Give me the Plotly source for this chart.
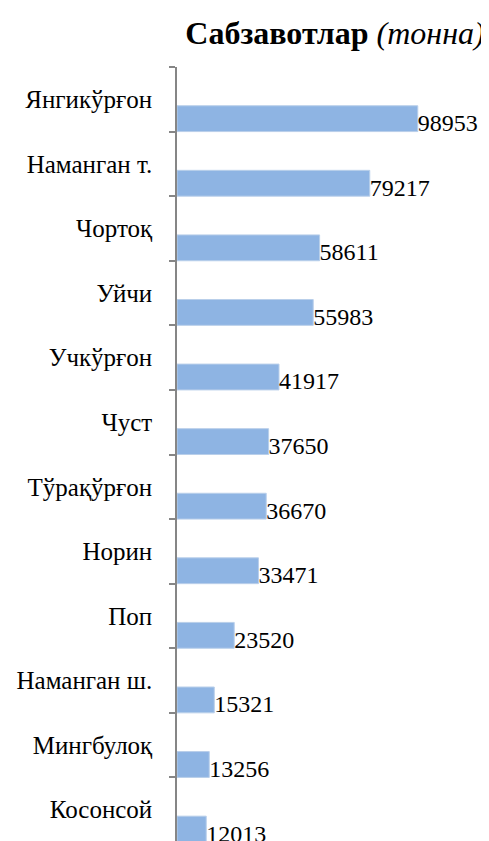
import plotly.graph_objects as go

categories = ["Янгикўрғон", "Наманган т.", "Чортоқ", "Уйчи", "Учкўрғон", "Чуст",
              "Тўрақўрғон", "Норин", "Поп", "Наманган ш.", "Мингбулоқ", "Косонсой"]
values = [98953, 79217, 58611, 55983, 41917, 37650, 36670, 33471, 23520, 15321, 13256, 12013]
value_labels = [str(v) for v in values]

FONT = "Liberation Serif"
idx = list(range(len(categories)))

fig = go.Figure()
fig.add_trace(go.Bar(
    x=values, y=categories, orientation="h",
    width=0.4, offset=0.1,
    marker=dict(color="#8EB4E3", line=dict(color="#B9CFEA", width=1)),
    hoverinfo="skip", showlegend=False,
))
fig.add_trace(go.Scatter(
    x=values, y=[i + 0.4 for i in idx], yaxis="y2",
    mode="text", text=value_labels, textposition="middle right",
    textfont=dict(family=FONT, size=24, color="#000000"),
    cliponaxis=False, hoverinfo="skip", showlegend=False,
))

rng = [11.5, -0.5]
fig.update_layout(
    width=489, height=841,
    margin=dict(l=169, r=28, t=59, b=7, autoexpand=False),
    paper_bgcolor="white", plot_bgcolor="white",
    font=dict(family=FONT),
    title=dict(
        text="<b>Сабзавотлар</b> <i>(тонна)</i>",
        font=dict(family=FONT, size=32, color="#000000"),
        xref="container", x=327 / 489, xanchor="center",
        yref="container", y=1 - 25 / 841, yanchor="middle",
    ),
    xaxis=dict(range=[0, 120000], visible=False, fixedrange=True),
    yaxis=dict(
        type="category", categoryorder="array", categoryarray=categories,
        range=rng, autorange=False, automargin=False,
        tickson="boundaries", ticks="outside", ticklen=6, tickwidth=1.5,
        tickcolor="#868686", showline=True, linecolor="#868686", linewidth=1.5,
        showgrid=False, zeroline=False, ticklabelstandoff=18,
        tickfont=dict(family=FONT, size=25, color="#000000"),
    ),
    yaxis2=dict(overlaying="y", range=rng, autorange=False, visible=False),
)
fig.write_html("out.html")
